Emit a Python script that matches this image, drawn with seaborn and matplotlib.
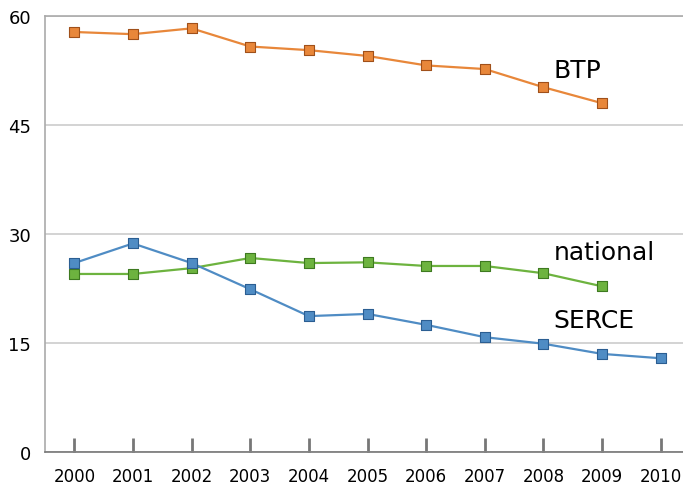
import matplotlib
matplotlib.use("Agg")
import matplotlib.pyplot as plt
import seaborn as sns
import pandas as pd

years = list(range(2000, 2011))
btp = [57.8, 57.5, 58.3, 55.8, 55.3, 54.5, 53.2, 52.7, 50.2, 48.0]
national = [24.5, 24.5, 25.3, 26.7, 26.0, 26.1, 25.6, 25.6, 24.6, 22.8]
serce = [26.0, 28.7, 26.0, 22.4, 18.7, 19.0, 17.5, 15.8, 14.9, 13.5, 12.9]
series_names = ["BTP", "national", "SERCE"]
yticks = [0, 15, 30, 45, 60]

rows = []
for name, vals in zip(series_names, [btp, national, serce]):
    for y, v in zip(years, vals):
        rows.append({"year": y, "value": v, "series": name})
df = pd.DataFrame(rows)

palette = {"BTP": "#E8873A", "national": "#6DB33F", "SERCE": "#4F8CC4"}
edges = {"BTP": "#A0501A", "national": "#3E7A20", "SERCE": "#2B5E92"}

sns.set_style("white")
plt.rcParams["font.family"] = ["DejaVu Sans"]

fig = plt.figure(figsize=(6.83, 4.85), dpi=100)
ax = fig.add_axes([45/683, 32/485, (683-45)/683, 436/485])

sns.lineplot(data=df, x="year", y="value", hue="series", palette=palette,
             ax=ax, legend=False, linewidth=1.6)
for name in series_names:
    sub = df[df.series == name]
    ax.scatter(sub.year, sub.value, marker="s", s=52, color=palette[name],
               edgecolor=edges[name], linewidth=0.8, zorder=5)

ax.set_xlim(1999.5, 2010.38)
ax.set_ylim(0, 60)
ax.set_yticks(yticks)
ax.set_yticklabels([str(t) for t in yticks])
ax.set_xticks(years)
ax.set_xticklabels([str(y) for y in years])
ax.set_xlabel("")
ax.set_ylabel("")
ax.yaxis.grid(True, color="#cccccc", linewidth=1.2)
ax.set_axisbelow(True)
ax.tick_params(axis="y", left=False, length=0, pad=10, labelsize=13,
               labelcolor="black")
ax.tick_params(axis="x", bottom=True, direction="in", length=10, width=2,
               color="#777777", pad=11, labelsize=12, labelcolor="black")
for s in ["left", "bottom", "top"]:
    ax.spines[s].set_color("#aaaaaa")
    ax.spines[s].set_linewidth(1.2)
ax.spines["bottom"].set_color("#777777")
ax.spines["right"].set_visible(False)

ax.text(2008.17, 52.5, "BTP", fontsize=18, ha="left", va="center", color="black")
ax.text(2008.17, 27.5, "national", fontsize=18, ha="left", va="center", color="black")
ax.text(2008.17, 18.2, "SERCE", fontsize=18, ha="left", va="center", color="black")

fig.savefig("out.png", dpi=100)
